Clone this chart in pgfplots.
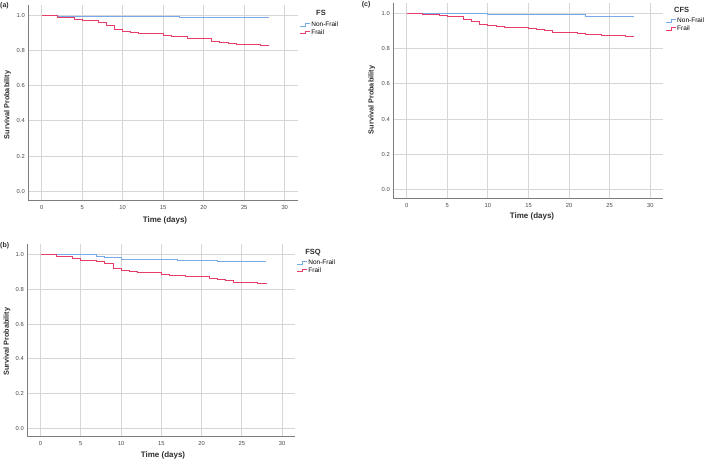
\documentclass[border=0pt]{standalone}
\usepackage{fontspec}
\setmainfont{Liberation Sans}
\usepackage{pgfplots}
\pgfplotsset{compat=1.18}
\definecolor{nfblue}{RGB}{120,170,232}
\definecolor{frred}{RGB}{232,60,105}
\definecolor{gridgray}{RGB}{214,214,214}
\definecolor{axgray}{RGB}{125,125,125}
\definecolor{txt}{RGB}{45,45,45}
\definecolor{tick}{RGB}{70,70,70}
\pgfplotsset{km/.style={
  scale only axis,
  xmin=-1.65, xmax=31.6, ymin=-0.05, ymax=1.06,
  axis x line=bottom, axis y line=left,
  axis line style={axgray, line width=0.8pt, -},
  xtick={0,5,10,15,20,25,30}, ytick={0,0.2,0.4,0.6,0.8,1},
  grid=major, major grid style={gridgray, line width=0.9pt},
  major tick length=0pt,
  /pgf/number format/assume math mode=true,
  tick label style={font=\fontsize{5.8}{6.5}\selectfont\color{tick}},
  yticklabel style={/pgf/number format/.cd, fixed, fixed zerofill, precision=1, /tikz/.cd},
  xticklabel style={yshift=-1.5pt},
  legend cell align=left,
  legend style={draw=none, fill=none, inner sep=0pt, font=\fontsize{6.5}{7}\selectfont,
    row sep=0.3pt, nodes={inner sep=0.6pt}},
  legend image code/.code={\draw[##1] (0pt,-1.2pt) -- (5.5pt,-1.2pt) -- (5.5pt,1.2pt) -- (10.5pt,1.2pt);},
  nf/.style={color=nfblue, line width=1pt, const plot, no marks},
  fr/.style={color=frred, line width=1pt, const plot, no marks},
}}
\begin{document}
\begin{tikzpicture}
\useasboundingbox (0,0) rectangle (709pt,-462pt);
% ---------- (a) FS ----------
\begin{axis}[km, at={(28.3pt,-200pt)}, anchor=south west, width=269.4pt, height=195pt,
  legend style={at={(1.005,0.918)}, anchor=north west}]
\addplot[nf] coordinates {(0,1)(2,0.997)(7,0.993)(17,0.986)(28,0.986)};
\addlegendentry{Non-Frail}
\addplot[fr] coordinates {(0,1)(2,0.989)(4,0.976)(5,0.971)(7,0.959)(8,0.942)(9,0.918)(10,0.908)(11,0.902)(12,0.896)(15,0.885)(16,0.878)(18,0.868)(21,0.855)(22,0.846)(23,0.840)(24,0.834)(27,0.827)(28,0.827)};
\addlegendentry{Frail}
\end{axis}
% ---------- (c) CFS ----------
\begin{axis}[km, at={(393.3pt,-198.3pt)}, anchor=south west, width=270pt, height=195.5pt,
  legend style={at={(1.006,0.926)}, anchor=north west}]
\addplot[nf] coordinates {(0,1)(10,0.992)(22,0.983)(28,0.983)};
\addlegendentry{Non-Frail}
\addplot[fr] coordinates {(0,1)(2,0.995)(4,0.989)(5,0.981)(7,0.968)(8,0.955)(9,0.938)(10,0.930)(11,0.926)(12,0.920)(15,0.913)(16,0.907)(17,0.901)(18,0.894)(21,0.888)(22,0.882)(23,0.878)(24,0.874)(27,0.867)(28,0.867)};
\addlegendentry{Frail}
\end{axis}
% ---------- (b) FSQ ----------
\begin{axis}[km, at={(27.3pt,-436.7pt)}, anchor=south west, width=267.7pt, height=192.4pt,
  legend style={at={(1.004,0.924)}, anchor=north west}]
\addplot[nf] coordinates {(0,1)(7,0.991)(8,0.983)(10,0.974)(17,0.969)(18,0.965)(22,0.959)(28,0.959)};
\addlegendentry{Non-Frail}
\addplot[fr] coordinates {(0,1)(2,0.987)(4,0.977)(5,0.968)(7,0.960)(8,0.947)(9,0.918)(10,0.910)(11,0.905)(12,0.899)(15,0.888)(16,0.880)(18,0.874)(21,0.861)(22,0.855)(23,0.850)(24,0.842)(27,0.834)(28,0.830)};
\addlegendentry{Frail}
\end{axis}
% ---------- labels ----------
\tikzset{lab/.style={font=\bfseries\fontsize{7.3}{9}\selectfont\color{txt}, inner sep=0pt},
         xl/.style={font=\bfseries\fontsize{8}{9}\selectfont\color{txt}, inner sep=0pt},
         ttl/.style={font=\bfseries\fontsize{7.5}{9}\selectfont\color{txt}, inner sep=0pt},
         pan/.style={font=\bfseries\fontsize{7}{8}\selectfont\color{txt}, inner sep=0pt, anchor=west}}
\node[pan] at (0pt,-6pt) {(a)};
\node[pan] at (361.7pt,-5pt) {(c)};
\node[pan] at (0pt,-246pt) {(b)};
\node[lab, rotate=90] at (7.5pt,-105pt) {Survival Probability};
\node[lab, rotate=90] at (371.7pt,-100pt) {Survival Probability};
\node[lab, rotate=90] at (7pt,-341.7pt) {Survival Probability};
\node[xl] at (165pt,-220pt) {Time (days)};
\node[xl] at (532pt,-216.7pt) {Time (days)};
\node[xl] at (163pt,-455pt) {Time (days)};
\node[ttl] at (321pt,-13pt) {FS};
\node[ttl] at (681.7pt,-10pt) {CFS};
\node[ttl] at (313pt,-252.7pt) {FSQ};
\end{tikzpicture}
\end{document}
